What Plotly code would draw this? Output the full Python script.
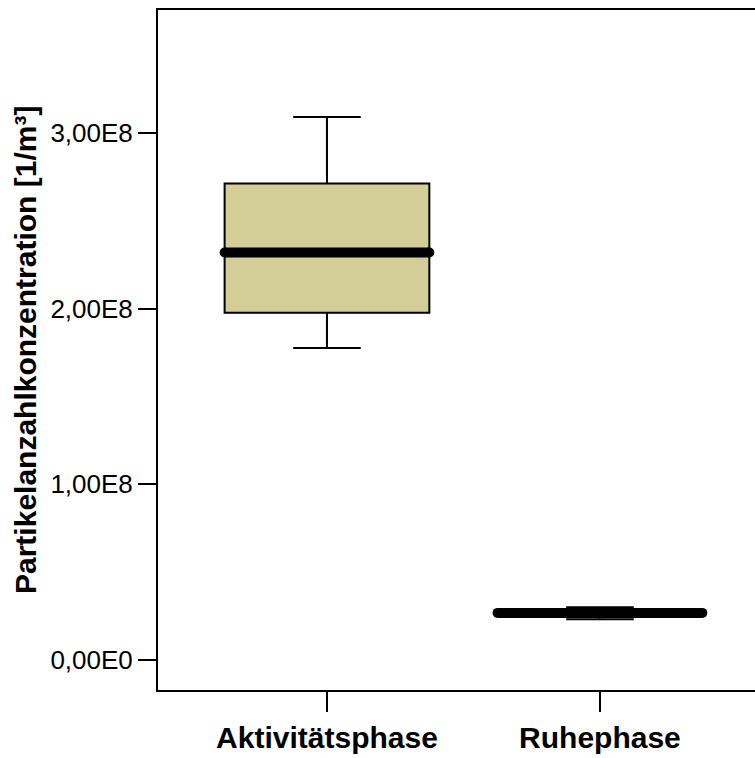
import plotly.graph_objects as go

categories = ["Aktivitätsphase", "Ruhephase"]
lower_fence = [1.776e8, 0.232e8]
q1_vals = [1.977e8, 0.255e8]
medians = [2.320e8, 0.268e8]
q3_vals = [2.712e8, 0.280e8]
upper_fence = [3.091e8, 0.300e8]

y_tickvals = [0, 1e8, 2e8, 3e8]
y_ticktext = ["0,00E0", "1,00E8", "2,00E8", "3,00E8"]
y_title = "Partikelanzahlkonzentration [1/m³]"

FONT = "Liberation Sans, Arial, sans-serif"
BOX_W = 0.75
FILL = "#D3CD98"

fig = go.Figure()
for i, cat in enumerate(categories):
    fig.add_trace(go.Box(
        x=[i], q1=[q1_vals[i]], median=[medians[i]], q3=[q3_vals[i]],
        lowerfence=[lower_fence[i]], upperfence=[upper_fence[i]],
        width=BOX_W, whiskerwidth=0.33,
        fillcolor=FILL, line=dict(color="black", width=2),
        boxpoints=False, showlegend=False, hoverinfo="skip",
    ))
    fig.add_trace(go.Scatter(
        x=[i - BOX_W / 2, i + BOX_W / 2], y=[medians[i], medians[i]],
        mode="lines+markers",
        line=dict(color="black", width=10),
        marker=dict(color="black", size=10, symbol="circle", line=dict(width=0)),
        showlegend=False, hoverinfo="skip",
    ))

fig.add_annotation(
    text=f"<b>{y_title}</b>", textangle=-90,
    xref="paper", yref="paper", x=-(158 - 25) / 597, y=0.5,
    xanchor="center", yanchor="middle", showarrow=False,
    font=dict(family=FONT, size=30, color="black"),
)

fig.update_layout(
    width=755, height=758,
    margin=dict(l=158, r=0, t=10, b=68),
    paper_bgcolor="white", plot_bgcolor="white",
    font=dict(family=FONT, color="black"),
    xaxis=dict(
        range=[-0.619, 1.568],
        tickvals=list(range(len(categories))),
        ticktext=[f"<b>{c}</b>" for c in categories],
        tickfont=dict(size=30, family=FONT, color="black"),
        ticks="outside", ticklen=20, tickwidth=1.5, tickcolor="black",
        showline=True, linecolor="black", linewidth=2, mirror=True,
        showgrid=False, zeroline=False,
    ),
    yaxis=dict(
        range=[-0.1708e8, 3.70e8],
        tickvals=y_tickvals, ticktext=y_ticktext,
        tickfont=dict(size=26, family=FONT, color="black"),
        ticks="outside", ticklen=18, tickwidth=1.5, tickcolor="black",
        showline=True, linecolor="black", linewidth=2, mirror=False,
        showgrid=False, zeroline=False,
    ),
)

fig.write_html("out.html")
